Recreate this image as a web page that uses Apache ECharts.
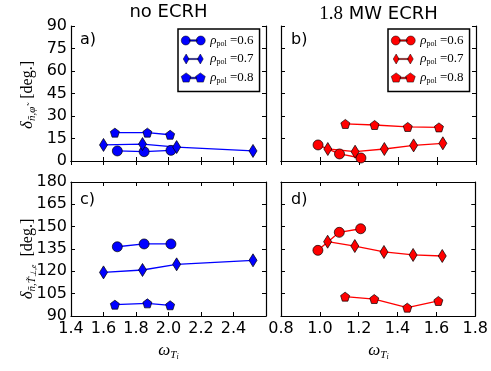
<!DOCTYPE html>
<html>
<head>
<meta charset="utf-8">
<script src="https://cdn.jsdelivr.net/npm/echarts@6/dist/echarts.min.js"></script>
<style>
  html, body { margin: 0; padding: 0; background: #fff; }
  #chart { width: 491px; height: 371px; }
</style>
</head>
<body>
<div id="chart"></div>
<script>
// omega_Ti of each scan, no ECRH / 1.8 MW ECRH
const omegaNo06 = [1.685, 1.85, 2.015];
const omegaNo07 = [1.60, 1.84, 2.05, 2.52];
const omegaNo08 = [1.67, 1.87, 2.01];
const omegaOn06 = [0.99, 1.10, 1.21];
const omegaOn07 = [1.04, 1.18, 1.33, 1.48, 1.63];
const omegaOn08 = [1.13, 1.28, 1.45, 1.61];

// cross-phase n - phi [deg.]
const nPhiNo06 = [6.7, 6.2, 7.1];
const nPhiNo07 = [10.7, 11.3, 9.3, 6.7];
const nPhiNo08 = [18.9, 18.9, 17.5];
const nPhiOn06 = [10.7, 4.7, 2.0];
const nPhiOn07 = [8.0, 6.2, 8.0, 10.4, 11.8];
const nPhiOn08 = [24.7, 24.0, 22.7, 22.4];

// cross-phase n - T_perp,e [deg.]
const nTNo06 = [136.5, 138.4, 138.4];
const nTNo07 = [119.3, 120.9, 124.7, 127.4];
const nTNo08 = [97.6, 98.5, 97.2];
const nTOn06 = [134.1, 146.2, 148.6];
const nTOn07 = [139.9, 137.0, 133.0, 131.0, 130.3];
const nTOn08 = [103.0, 101.4, 95.6, 100.1];

const rhoLabels = ['0.6', '0.7', '0.8'];

const BLUE = '#0000ff';
const RED = '#ff0000';
const SANS = 'DejaVu Sans';
const SERIF = 'Liberation Serif';

const pentagon = 'path://M0,-1L0.951,-0.309L0.588,0.809L-0.588,0.809L-0.951,-0.309Z';
const symbols = ['circle', 'diamond', pentagon];
const symbolSizes = [10, [8, 13], 9];
const legendIcons = [
  'path://M0,5A4.5,4.5 0 1,1 9,5A4.5,4.5 0 1,1 0,5Z M15,5A4.5,4.5 0 1,1 24,5A4.5,4.5 0 1,1 15,5Z M8,4.3H16V5.7H8Z',
  'path://M3.5,0L7,6L3.5,12L0,6Z M20.5,0L24,6L20.5,12L17,6Z M6,5.3H18V6.7H6Z',
  'path://M5,0.2L9.76,3.65L7.94,9.25L2.06,9.25L0.24,3.65Z M19,0.2L23.76,3.65L21.94,9.25L16.06,9.25L14.24,3.65Z M9,4.5H15V6H9Z'
];

const grids = [
  { left: 71, top: 26, width: 195, height: 135 },
  { left: 281, top: 26, width: 195, height: 135 },
  { left: 71, top: 182, width: 195, height: 134 },
  { left: 281, top: 182, width: 195, height: 134 }
];

const frame = { show: true, lineStyle: { color: '#000', width: 1.2 } };
const ticks = { show: true, inside: true, length: 4, lineStyle: { color: '#000', width: 1 } };
const labelFont = { fontFamily: SANS, fontSize: 16, color: '#000' };

const xAxes = [];
const yAxes = [];
function addAxes(g, xMin, xMax, yMin, yMax, showX, showY, hideXMax) {
  xAxes.push({
    type: 'value', gridIndex: g, position: 'bottom', min: xMin, max: xMax, interval: 0.2,
    axisLine: frame, axisTick: ticks, splitLine: { show: false },
    axisLabel: { show: showX, margin: 5, showMaxLabel: !hideXMax, ...labelFont,
      formatter: v => v.toFixed(1) }
  });
  xAxes.push({
    type: 'value', gridIndex: g, position: 'top', min: xMin, max: xMax, interval: 0.2,
    axisLine: frame, axisTick: ticks, splitLine: { show: false }, axisLabel: { show: false }
  });
  yAxes.push({
    type: 'value', gridIndex: g, position: 'left', min: yMin, max: yMax, interval: 15,
    axisLine: frame, axisTick: ticks, splitLine: { show: false },
    axisLabel: { show: showY, margin: 4, ...labelFont }
  });
  yAxes.push({
    type: 'value', gridIndex: g, position: 'right', min: yMin, max: yMax, interval: 15,
    axisLine: frame, axisTick: ticks, splitLine: { show: false }, axisLabel: { show: false }
  });
}
addAxes(0, 1.4, 2.6, 0, 90, false, true, false);
addAxes(1, 0.8, 1.8, 0, 90, false, false, false);
addAxes(2, 1.4, 2.6, 90, 180, true, true, true);
addAxes(3, 0.8, 1.8, 90, 180, true, false, false);

function zip(xs, ys) {
  return xs.map((x, i) => [x, ys[i]]);
}

function makeSeries(name, g, k, color, xs, ys) {
  return {
    name: name, type: 'line', xAxisIndex: 2 * g, yAxisIndex: 2 * g,
    data: zip(xs, ys),
    symbol: symbols[k], symbolSize: symbolSizes[k],
    lineStyle: { color: color, width: 1.3 },
    itemStyle: { color: color, borderColor: '#000', borderWidth: 0.7 },
    animation: false
  };
}

const blueNames = ['no-0.6', 'no-0.7', 'no-0.8'];
const redNames = ['on-0.6', 'on-0.7', 'on-0.8'];

const series = [
  makeSeries(blueNames[0], 0, 0, BLUE, omegaNo06, nPhiNo06),
  makeSeries(blueNames[1], 0, 1, BLUE, omegaNo07, nPhiNo07),
  makeSeries(blueNames[2], 0, 2, BLUE, omegaNo08, nPhiNo08),
  makeSeries(redNames[0], 1, 0, RED, omegaOn06, nPhiOn06),
  makeSeries(redNames[1], 1, 1, RED, omegaOn07, nPhiOn07),
  makeSeries(redNames[2], 1, 2, RED, omegaOn08, nPhiOn08),
  makeSeries(blueNames[0], 2, 0, BLUE, omegaNo06, nTNo06),
  makeSeries(blueNames[1], 2, 1, BLUE, omegaNo07, nTNo07),
  makeSeries(blueNames[2], 2, 2, BLUE, omegaNo08, nTNo08),
  makeSeries(redNames[0], 3, 0, RED, omegaOn06, nTOn06),
  makeSeries(redNames[1], 3, 1, RED, omegaOn07, nTOn07),
  makeSeries(redNames[2], 3, 2, RED, omegaOn08, nTOn08)
];

const legendRich = {
  r: { fontFamily: SERIF, fontStyle: 'italic', fontSize: 13, lineHeight: 14 },
  s: { fontFamily: SERIF, fontSize: 8, lineHeight: 8, verticalAlign: 'bottom' },
  e: { fontFamily: SERIF, fontSize: 13, lineHeight: 14 }
};
function makeLegend(names, left) {
  return {
    left: left, top: 29, orient: 'vertical', selectedMode: false,
    itemWidth: 24, itemHeight: 10, itemGap: 5,
    padding: [5, 6, 7, 3],
    backgroundColor: '#fff', borderColor: '#000', borderWidth: 1.5, borderRadius: 0,
    itemStyle: { borderWidth: 0.5 },
    data: names.map((n, i) => ({ name: n, icon: legendIcons[i] })),
    formatter: n => '{r|\u03c1}{s|pol}{e| =' + rhoLabels[names.indexOf(n)] + '}',
    textStyle: { color: '#000', padding: [0, 0, 0, 0], rich: legendRich }
  };
}

const yRich = {
  d: { fontFamily: SERIF, fontStyle: 'italic', fontSize: 17, lineHeight: 20 },
  s: { fontFamily: SERIF, fontStyle: 'italic', fontSize: 11, lineHeight: 11, verticalAlign: 'bottom' },
  ss: { fontFamily: SERIF, fontStyle: 'italic', fontSize: 8, lineHeight: 8, verticalAlign: 'bottom' },
  t: { fontFamily: SERIF, fontSize: 16, lineHeight: 20 }
};
const xRich = {
  w: { fontFamily: SERIF, fontStyle: 'italic', fontSize: 17, lineHeight: 20 },
  s: { fontFamily: SERIF, fontStyle: 'italic', fontSize: 11, lineHeight: 11, verticalAlign: 'bottom' },
  ss: { fontFamily: SERIF, fontStyle: 'italic', fontSize: 8, lineHeight: 8, verticalAlign: 'bottom' }
};

function txt(x, y, text, extra) {
  return { type: 'text', x: x, y: y, silent: true,
    style: Object.assign({ text: text, fill: '#000', font: '16px ' + SANS, align: 'left', verticalAlign: 'top' }, extra || {}) };
}

const graphic = [
  txt(168.5, 3, 'no ECRH', { font: '18px ' + SANS, align: 'center' }),
  txt(378.5, 3, '{m|1.8}{t| MW ECRH}', { align: 'center',
    rich: { m: { fontFamily: SERIF, fontSize: 19, lineHeight: 22 }, t: { fontFamily: SANS, fontSize: 18, lineHeight: 22 } } }),
  txt(80, 32, 'a)'), txt(291, 32, 'b)'), txt(80, 192, 'c)'), txt(291, 192, 'd)'),
  Object.assign(txt(28, 95, '{d|\u03b4}{s|\u00f1,\u03c6\u0303}{t|  [deg.]}',
    { align: 'center', verticalAlign: 'middle', rich: yRich }), { rotation: Math.PI / 2 }),
  Object.assign(txt(28, 259, '{d|\u03b4}{s|\u00f1,T\u0303}{ss|\u22a5,e}{t|  [deg.]}',
    { align: 'center', verticalAlign: 'middle', rich: yRich }), { rotation: Math.PI / 2 }),
  txt(168.5, 351, '{w|\u03c9}{s|T}{ss|i}', { align: 'center', verticalAlign: 'middle', rich: xRich }),
  txt(378.5, 351, '{w|\u03c9}{s|T}{ss|i}', { align: 'center', verticalAlign: 'middle', rich: xRich })
];

const chart = echarts.init(document.getElementById('chart'), null, { renderer: 'canvas' });
chart.setOption({
  animation: false,
  backgroundColor: '#fff',
  grid: grids,
  xAxis: xAxes,
  yAxis: yAxes,
  legend: [makeLegend(blueNames, 178), makeLegend(redNames, 388)],
  series: series,
  graphic: graphic
});
</script>
</body>
</html>
